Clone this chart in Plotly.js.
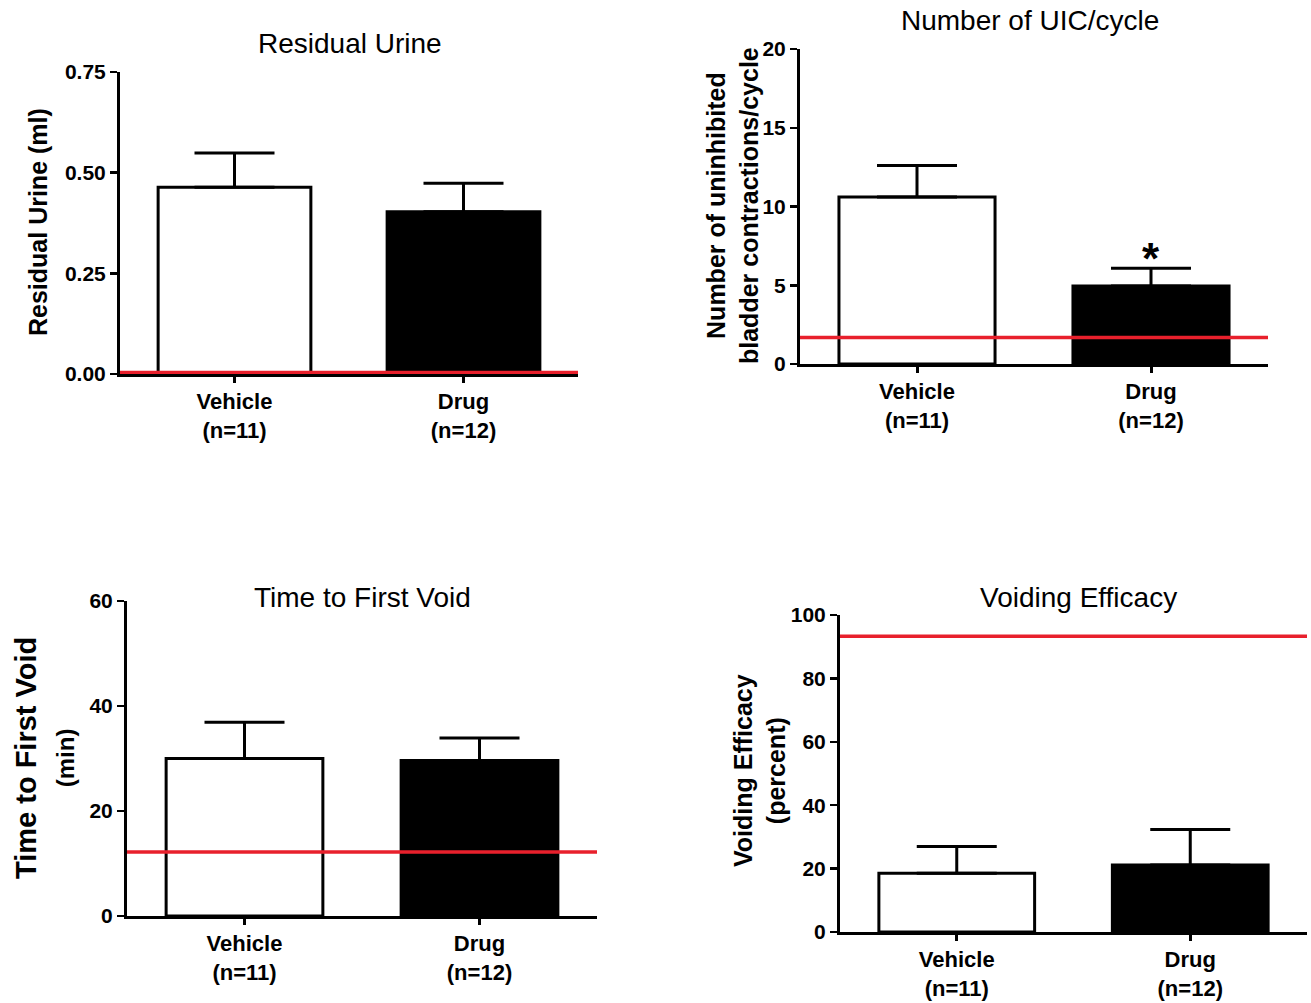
<!DOCTYPE html>
<html>
<head>
<meta charset="utf-8">
<script src="https://cdn.plot.ly/plotly-3.0.1.min.js"></script>
<style>
  html, body { margin: 0; padding: 0; background: #fff; }
  #chart { width: 1311px; height: 1003px; }
</style>
</head>
<body>
<div id="chart"></div>
<script>
// ---------- data ----------
const categories = ['Vehicle', 'Drug'];
const nLabels = ['(n=11)', '(n=12)'];

const residualMean = [0.464, 0.403];
const residualSem = [0.085, 0.071];
const residualRef = 0.004;

const uicMean = [10.6, 4.96];
const uicSem = [2.0, 1.12];
const uicRef = 1.68;
const uicSignif = ['', '*'];

const timeMean = [30.0, 29.6];
const timeSem = [6.9, 4.3];
const timeRef = 12.2;

const effMean = [18.5, 21.1];
const effSem = [8.5, 11.2];
const effRef = 93.3;

const panelTitles = ['Residual Urine', 'Number of UIC/cycle', 'Time to First Void', 'Voiding Efficacy'];
const yTitles = [
  'Residual Urine (ml)',
  'Number of uninhibited<br>bladder contractions/cycle',
  'Time to First Void<br><span style="font-size:24px">(min)</span>',
  'Voiding Efficacy<br>(percent)'
];

// ---------- styling ----------
const FONT = 'Arial, "Liberation Sans", Helvetica, sans-serif';
const RED = '#e8202c';
const W = 1311, H = 1003;
const px = v => v / W;
const py = v => 1 - v / H;

const panels = [
  { mean: residualMean, sem: residualSem, ref: residualRef, range: [0, 0.75], dtick: 0.25, fmt: '.2f',
    xdom: [px(120), px(578)], ydom: [py(374), py(72)] },
  { mean: uicMean, sem: uicSem, ref: uicRef, range: [0, 20], dtick: 5, fmt: 'd',
    xdom: [px(800), px(1268)], ydom: [py(364), py(49)] },
  { mean: timeMean, sem: timeSem, ref: timeRef, range: [0, 60], dtick: 20, fmt: 'd',
    xdom: [px(127), px(597)], ydom: [py(916), py(601)] },
  { mean: effMean, sem: effSem, ref: effRef, range: [0, 100], dtick: 20, fmt: 'd',
    xdom: [px(840), px(1307)], ydom: [py(932), py(615)] }
];

const tickText = categories.map((c, j) => c + '<br>' + nLabels[j]);

const traces = [];
const layout = {
  width: W, height: H,
  margin: { l: 0, r: 0, t: 0, b: 0 },
  paper_bgcolor: '#fff', plot_bgcolor: 'rgba(0,0,0,0)',
  showlegend: false,
  font: { family: FONT, color: '#000' },
  shapes: [], annotations: []
};

panels.forEach((p, i) => {
  const k = i === 0 ? '' : String(i + 1);
  const xa = 'x' + k, ya = 'y' + k;
  traces.push({
    type: 'bar', x: categories, y: p.mean, xaxis: xa, yaxis: ya,
    width: 0.667,
    marker: { color: ['#ffffff', '#000000'], line: { color: '#000', width: 3 } },
    error_y: { type: 'data', symmetric: false, array: p.sem, arrayminus: [0, 0],
               color: '#000', thickness: 3, width: 40 },
    hoverinfo: 'skip'
  });
  layout['xaxis' + k] = {
    domain: p.xdom, anchor: ya, type: 'category', range: [-0.5, 1.5],
    tickmode: 'array', tickvals: categories, ticktext: tickText,
    showline: true, linecolor: '#000', linewidth: 3,
    ticks: 'outside', ticklen: 6, tickwidth: 3, tickcolor: '#000',
    showgrid: false, zeroline: false,
    tickfont: { family: FONT, size: 22, weight: 'bold', color: '#000' }
  };
  layout['yaxis' + k] = {
    domain: p.ydom, anchor: xa, range: p.range, dtick: p.dtick, tick0: 0, tickformat: p.fmt,
    showline: true, linecolor: '#000', linewidth: 3,
    ticks: 'outside', ticklen: 7, tickwidth: 2.5, tickcolor: '#000',
    showgrid: false, zeroline: false,
    tickfont: { family: FONT, size: 21, weight: 'bold', color: '#000' }
  };
  // reference (red) line
  layout.shapes.push({
    type: 'line', layer: 'above', xref: xa + ' domain', yref: ya,
    x0: 0, x1: 1, y0: p.ref, y1: p.ref,
    line: { color: RED, width: 3.5 }
  });
});

// panel titles
const titlePos = [[350, 43], [1030, 20], [362, 597], [1078, 597]];
panelTitles.forEach((t, i) => {
  layout.annotations.push({
    xref: 'paper', yref: 'paper', x: px(titlePos[i][0]), y: py(titlePos[i][1]),
    xanchor: 'center', yanchor: 'middle', showarrow: false,
    text: t, font: { family: FONT, size: 28, color: '#000' }
  });
});

// y-axis titles
const yTitlePos = [[38, 222], [732, 206], [44, 758], [759, 771]];
const yTitleSize = [25, 25, 29, 25];
yTitles.forEach((t, i) => {
  layout.annotations.push({
    xref: 'paper', yref: 'paper', x: px(yTitlePos[i][0]), y: py(yTitlePos[i][1]),
    xanchor: 'center', yanchor: 'middle', showarrow: false, textangle: -90,
    text: t, font: { family: FONT, size: yTitleSize[i], weight: 'bold', color: '#000' }
  });
});

// significance marker
uicSignif.forEach((s, j) => {
  if (!s) return;
  layout.annotations.push({
    xref: 'x2', yref: 'y2', x: categories[j], y: uicMean[j] + uicSem[j], yshift: 10,
    xanchor: 'center', yanchor: 'middle', showarrow: false,
    text: s, font: { family: FONT, size: 44, weight: 'bold', color: '#000' }
  });
});

Plotly.newPlot('chart', traces, layout, { displayModeBar: false, staticPlot: true });
</script>
</body>
</html>
